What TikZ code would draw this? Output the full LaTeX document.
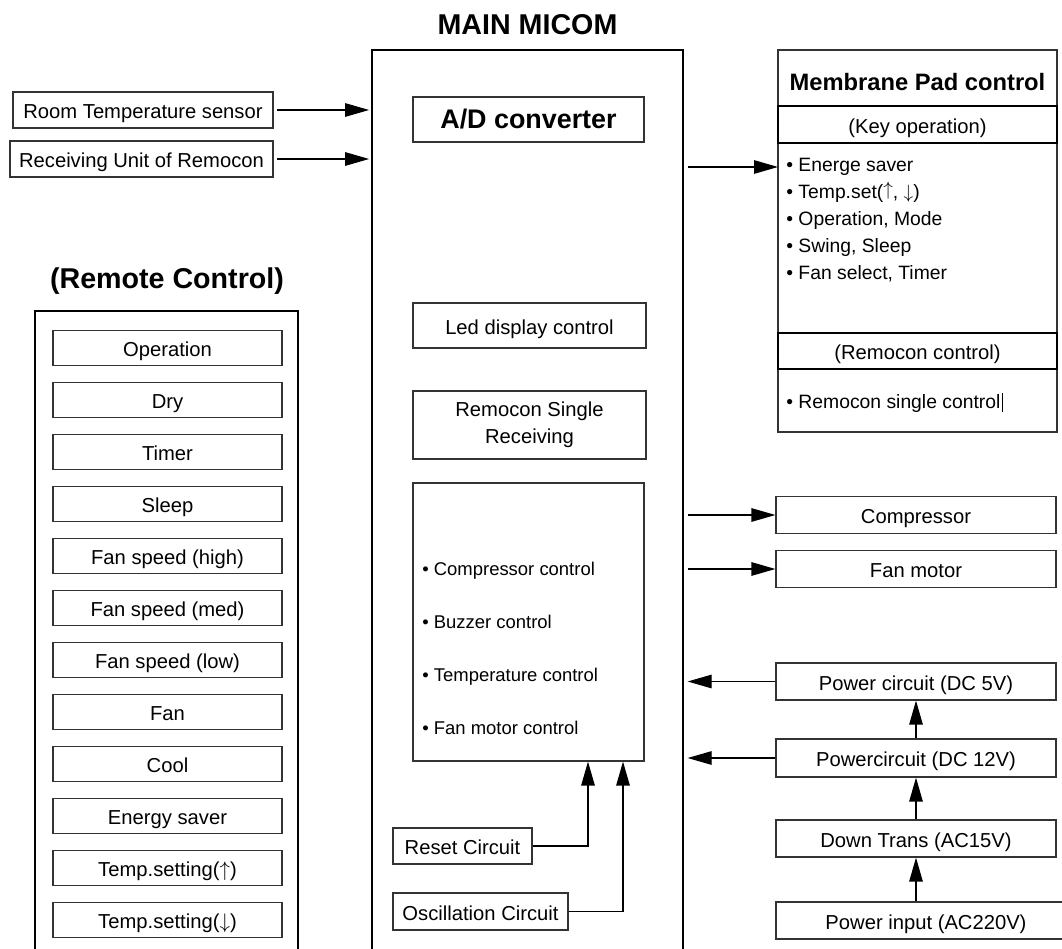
\documentclass[tikz,border=0pt]{standalone}
\usepackage{fontspec}
\setmainfont{Liberation Sans}
\usetikzlibrary{arrows.meta,positioning,calc}

\begin{document}
\begin{tikzpicture}[x=0.02cm,y=-0.02cm,
    plain/.style={
        rectangle,
        draw=black!80,
        line width=0.7pt,
        inner sep=0pt,
        align=center,
        font=\fontsize{11.5}{15.3}\selectfont
    },
    box/.style={plain, text height=10.5pt, text depth=0.5pt},
    frame/.style={rectangle, draw=black, line width=1.3pt, inner sep=0pt},
    head/.style={font=\bfseries\fontsize{16.3}{19}\selectfont},
    rcitem/.style={box, minimum width=4.58cm, minimum height=0.7cm},
    side/.style={box, minimum width=5.6cm, minimum height=0.73cm},
    arr/.style={-{Triangle[length=4.8mm,width=2.7mm]}, line width=0.7pt}
]
    \useasboundingbox (0,0) rectangle (1062,949);
    \clip (0,0) rectangle (1062,949);

    % Main micom
    \node[head] (mictitle) at (527.5,25) {MAIN MICOM};
    \node[frame, minimum width=6.22cm, minimum height=18.3cm] (micom) at (527.5,507.5) {};
    \node[box, minimum width=4.62cm, minimum height=0.9cm, font=\bfseries\fontsize{15.3}{18}\selectfont] (adc) at (528.5,119.5) {A/D converter};
    \node[box, minimum width=4.66cm, minimum height=0.9cm] (led) at (529.5,325.5) {Led display control};
    \node[plain, minimum width=4.66cm, minimum height=1.36cm] (rsr) at (529.5,425) {Remocon Single\\Receiving};
    \node[plain, minimum width=4.62cm, minimum height=5.56cm] (ctrl) at (528.5,622) {};
    \node[anchor=west, align=left, inner sep=0pt, font=\fontsize{10.5}{30.2}\selectfont] (ctrltxt) at (422,648) {%
        • Compressor control\\
        • Buzzer control\\
        • Temperature control\\
        • Fan motor control};
    \node[box, minimum width=2.78cm, minimum height=0.72cm] (reset) at (462.5,846) {Reset Circuit};
    \node[box, minimum width=3.5cm, minimum height=0.74cm] (osc) at (480.5,911.5) {Oscillation Circuit};

    % Inputs
    \node[box, minimum width=5.2cm, minimum height=0.72cm] (room) at (143,110) {Room Temperature sensor};
    \node[box, minimum width=5.26cm, minimum height=0.72cm] (recv) at (141.5,159) {Receiving Unit of Remocon};

    % Remote control
    \node[head] (rctitle) at (167,281) {(Remote Control)};
    \node[frame, minimum width=5.26cm, minimum height=13.08cm] (remote) at (166.5,638) {};
    \foreach \lbl [count=\i] in {Operation, Dry, Timer, Sleep, Fan speed (high), Fan speed (med),
        Fan speed (low), Fan, Cool, Energy saver, Temp.setting($\uparrow$), Temp.setting($\downarrow$)}
        \node[rcitem] (rc\i) at (167.5,{348+52*(\i-1)}) {\lbl};

    % Membrane pad
    \node[plain, minimum width=5.58cm, minimum height=7.64cm] (mpad) at (917.5,241) {};
    \node[font=\bfseries\fontsize{13.5}{16}\selectfont] (mptitle) at (917.5,82) {Membrane Pad control};
    \node[frame, minimum width=5.58cm, minimum height=0.74cm, text height=10.5pt, text depth=0.5pt,
        font=\fontsize{11.5}{14}\selectfont] (keyop) at (917.5,124.5) {(Key operation)};
    \node[anchor=west, align=left, inner sep=0pt, font=\fontsize{11}{15.3}\selectfont] (keys) at (786,220) {%
        • Energe saver\\
        • Temp.set(\raisebox{2pt}{$\uparrow$}, $\downarrow$)\\
        • Operation, Mode\\
        • Swing, Sleep\\
        • Fan select, Timer};
    \node[frame, minimum width=5.58cm, minimum height=0.72cm, text height=10.5pt, text depth=0.5pt,
        font=\fontsize{11.5}{14}\selectfont] (remcon) at (917.5,351) {(Remocon control)};
    \node[anchor=west, inner sep=0pt, font=\fontsize{11}{14}\selectfont] (single) at (786,403) {• Remocon single control\kern0.6pt\rule[-1.5pt]{0.9pt}{10.5pt}};
    \coordinate (padin) at (778,167);

    % Outputs and power
    \node[side] (comp) at (916,515) {Compressor};
    \node[side] (fan) at (916,569) {Fan motor};
    \node[side, minimum height=0.74cm] (p5) at (916,681.5) {Power circuit (DC 5V)};
    \node[side, minimum height=0.76cm] (p12) at (916,758) {Powercircuit (DC 12V)};
    \node[side, minimum height=0.74cm] (dtr) at (916,838.5) {Down Trans (AC15V)};
    \node[box, minimum width=6cm, minimum height=0.74cm] (pin) at (926,920.5) {Power input (AC220V)};

    % Arrows
    \draw[arr, shorten <=2pt, shorten >=1pt] (room) -- (room -| micom.west);
    \draw[arr, shorten <=2pt, shorten >=1pt] (recv) -- (recv -| micom.west);
    \draw[arr, shorten <=2pt] (micom.east |- padin) -- (padin);
    \draw[arr, shorten <=2pt] (micom.east |- comp) -- (comp);
    \draw[arr, shorten <=2pt] (micom.east |- fan) -- (fan);
    \draw[arr, shorten >=2pt] (p5) -- (p5 -| micom.east);
    \draw[arr, shorten >=2pt] (p12) -- (p12 -| micom.east);
    \draw[arr] (p12) -- (p5);
    \draw[arr] (dtr) -- (p12);
    \draw[arr] (pin.north -| dtr.south) -- (dtr.south);
    \draw[arr] (reset) -| ($(ctrl.south)+(59.5,0)$);
    \draw[arr] (osc) -| ($(ctrl.south)+(94.5,0)$);
\end{tikzpicture}
\end{document}
